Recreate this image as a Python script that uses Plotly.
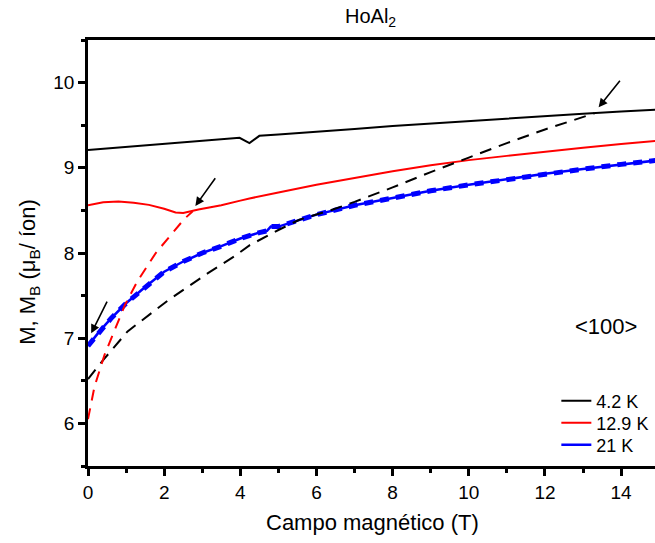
import plotly.graph_objects as go

# ---- data ----
x_42 = [0, 1, 2, 3, 3.98, 4.24, 4.5, 5, 6, 7, 8, 9, 10, 11, 12, 13, 14, 15]
y_42 = [9.21, 9.245, 9.28, 9.315, 9.352, 9.29, 9.375, 9.39, 9.42, 9.455, 9.49, 9.52, 9.55, 9.58, 9.61, 9.635, 9.66, 9.685]

x_42d = [0, 0.43, 1.04, 1.56, 2.09, 2.61, 3.14, 3.84, 4.24, 5.0, 5.55, 6.43, 7.0, 8.0, 9.0, 10, 11, 12, 13, 13.3]
y_42d = [6.52, 6.76, 7.08, 7.26, 7.44, 7.60, 7.76, 7.96, 8.09, 8.27, 8.39, 8.51, 8.6, 8.77, 8.95, 9.12, 9.29, 9.45, 9.6, 9.64]

x_129 = [0, 0.4, 0.8, 1.2, 1.6, 2.0, 2.3, 2.5, 2.9, 3.5, 4.0, 4.24, 5, 6, 7, 8, 9, 10, 11, 12, 13, 14, 15]
y_129 = [8.56, 8.595, 8.605, 8.59, 8.565, 8.52, 8.475, 8.47, 8.51, 8.56, 8.615, 8.64, 8.71, 8.8, 8.88, 8.96, 9.03, 9.09, 9.14, 9.19, 9.235, 9.28, 9.32]

x_129d = [0, 0.17, 0.43, 0.7, 0.97, 1.3, 1.78, 2.23, 2.53, 2.75]
y_129d = [6.05, 6.43, 6.80, 7.10, 7.39, 7.67, 8.0, 8.24, 8.40, 8.49]

x_21 = [0, 0.3, 0.6, 1.0, 1.5, 2.0, 2.5, 3.0, 3.5, 4.0, 4.5, 4.7, 4.8, 5.0, 6, 7, 8, 9, 10, 11, 12, 13, 14, 15]
y_21 = [6.91, 7.08, 7.23, 7.41, 7.6, 7.78, 7.9, 8.0, 8.08, 8.17, 8.24, 8.26, 8.31, 8.31, 8.45, 8.56, 8.645, 8.73, 8.8, 8.865, 8.93, 8.985, 9.04, 9.09]

legend_names = ["4.2 K", "12.9 K", "21 K"]

# arrows: (head_x, head_y, tail_x, tail_y)
arrows = [
    (0.084, 7.057, 0.52, 7.448),
    (2.82, 8.552, 3.37, 8.896),
    (13.41, 9.71, 14.0, 10.04),
]

FONT = "Liberation Sans, Arial, Helvetica, sans-serif"

fig = go.Figure()
fig.add_trace(go.Scatter(x=x_42, y=y_42, mode="lines", name=legend_names[0],
                         legend="legend", line=dict(color="black", width=2)))
fig.add_trace(go.Scatter(x=x_129, y=y_129, mode="lines", name=legend_names[1],
                         legend="legend2", line=dict(color="#ff0000", width=2)))
fig.add_trace(go.Scatter(x=x_21, y=y_21, mode="lines", name=legend_names[2],
                         legend="legend3", line=dict(color="#0000ff", width=2.5)))
fig.add_trace(go.Scatter(x=x_21, y=y_21, mode="lines", showlegend=False,
                         line=dict(color="#0000ff", width=5, dash="9px,7px")))
fig.add_trace(go.Scatter(x=x_42d, y=y_42d, mode="lines", showlegend=False,
                         line=dict(color="black", width=2, dash="12px,8px")))
fig.add_trace(go.Scatter(x=x_129d, y=y_129d, mode="lines", showlegend=False,
                         line=dict(color="#ff0000", width=2, dash="11px,8px")))

annotations = []
for hx, hy, tx, ty in arrows:
    annotations.append(dict(x=hx, y=hy, ax=tx, ay=ty, xref="x", yref="y",
                            axref="x", ayref="y", text="", showarrow=True,
                            arrowhead=2, arrowsize=1.1, arrowwidth=1.6,
                            arrowcolor="black"))
annotations += [
    dict(text="HoAl<sub>2</sub>", x=0.499, y=1.052, xref="paper", yref="paper",
         showarrow=False, font=dict(size=20, color="black", family=FONT),
         xanchor="center", yanchor="middle"),
    dict(text="Campo magnético (T)", x=0.502, y=-0.133, xref="paper", yref="paper",
         showarrow=False, font=dict(size=22, color="black", family=FONT),
         xanchor="center", yanchor="middle"),
    dict(text="M, M<sub>B</sub> (μ<sub>B</sub>/ íon)", x=-0.103, y=0.455,
         xref="paper", yref="paper", textangle=-90, showarrow=False,
         font=dict(size=22, color="black", family=FONT),
         xanchor="center", yanchor="middle"),
    dict(text="&lt;100&gt;", x=13.6, y=7.135, xref="x", yref="y", showarrow=False,
         font=dict(size=22, color="black", family=FONT),
         xanchor="center", yanchor="middle"),
]

leg_common = dict(x=0.826, xanchor="left", yanchor="middle",
                  bgcolor="rgba(0,0,0,0)", font=dict(size=18, family=FONT, color="black"),
                  itemwidth=30)

fig.update_layout(
    width=655, height=543,
    margin=dict(l=88, r=0, t=40, b=77),
    paper_bgcolor="white", plot_bgcolor="white",
    font=dict(family=FONT, color="black", size=19),
    annotations=annotations,
    legend=dict(y=0.1526, **leg_common),
    legend2=dict(y=0.101, **leg_common),
    legend3=dict(y=0.0493, **leg_common),
    showlegend=True,
)
fig.update_xaxes(range=[0, 14.89], showline=True, linecolor="black", linewidth=2.5,
                 mirror=True, ticks="outside", ticklen=7, tickwidth=2.5,
                 tickcolor="black", tickvals=[0, 2, 4, 6, 8, 10, 12, 14],
                 showgrid=False, zeroline=False,
                 minor=dict(ticks="outside", ticklen=4, tickwidth=2.5,
                            tickcolor="black", dtick=1, showgrid=False),
                 tickfont=dict(size=19, family=FONT))
fig.update_yaxes(range=[5.5, 10.5], showline=True, linecolor="black", linewidth=2.5,
                 mirror=False, ticks="outside", ticklen=7, tickwidth=2.5,
                 tickcolor="black", tickvals=[6, 7, 8, 9, 10],
                 showgrid=False, zeroline=False,
                 minor=dict(ticks="outside", ticklen=4, tickwidth=2.5,
                            tickcolor="black", dtick=0.5, showgrid=False),
                 tickfont=dict(size=19, family=FONT))

fig.write_html("out.html")
